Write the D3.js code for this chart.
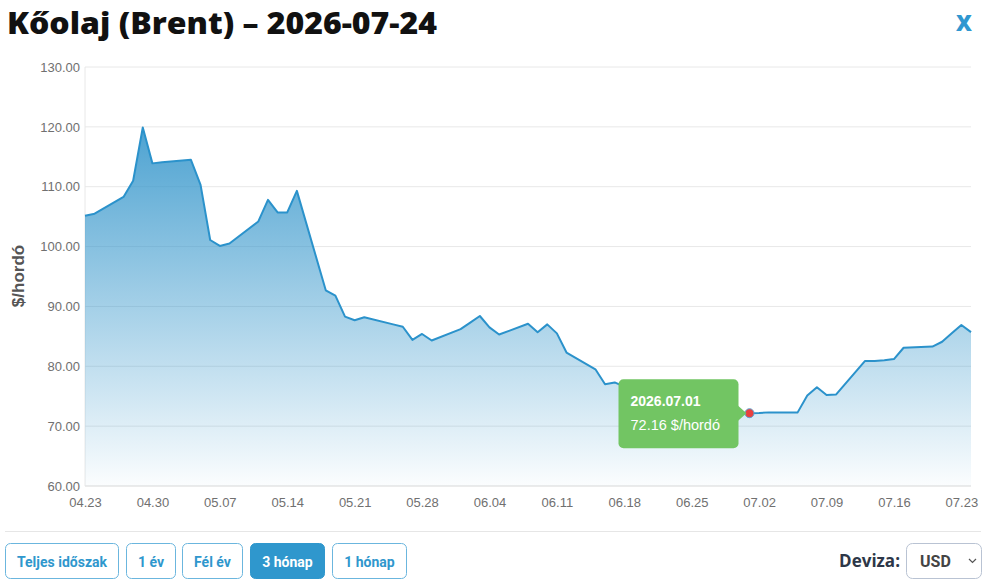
<!DOCTYPE html>
<html>
<head>
<meta charset="utf-8">
<script src="https://cdn.jsdelivr.net/npm/d3@7"></script>
<style>
  body { margin: 0; background: #fff; }
  svg { display: block; }
</style>
</head>
<body>
<div id="chart"></div>
<script>
// Brent daily prices (trading days only)
var dates = ["2026-04-23","2026-04-24","2026-04-27","2026-04-28","2026-04-29","2026-04-30","2026-05-01",
  "2026-05-04","2026-05-05","2026-05-06","2026-05-07","2026-05-08","2026-05-11","2026-05-12","2026-05-13",
  "2026-05-14","2026-05-15","2026-05-18","2026-05-19","2026-05-20","2026-05-21","2026-05-22","2026-05-25",
  "2026-05-26","2026-05-27","2026-05-28","2026-05-29","2026-06-01","2026-06-02","2026-06-03","2026-06-04",
  "2026-06-05","2026-06-08","2026-06-09","2026-06-10","2026-06-11","2026-06-12","2026-06-15","2026-06-16",
  "2026-06-17","2026-06-18","2026-06-19","2026-06-22","2026-06-23","2026-06-24","2026-06-25","2026-06-26",
  "2026-06-29","2026-06-30","2026-07-01","2026-07-02","2026-07-03","2026-07-06","2026-07-07","2026-07-08",
  "2026-07-09","2026-07-10","2026-07-13","2026-07-14","2026-07-15","2026-07-16","2026-07-17","2026-07-20",
  "2026-07-21","2026-07-22","2026-07-23","2026-07-24"];
var prices = [105.15,105.5,108.3,111.0,119.9,113.9,114.1,
  114.5,110.3,101.1,100.1,100.5,104.2,107.8,105.7,
  105.7,109.3,92.7,91.8,88.3,87.7,88.2,87.0,
  86.6,84.4,85.4,84.3,86.2,87.3,88.4,86.5,
  85.3,87.1,85.7,87.0,85.5,82.3,79.5,77.0,
  77.3,76.6,75.8,74.9,74.3,73.8,73.3,72.9,
  72.5,72.3,72.16,72.2,72.3,72.3,75.1,76.5,
  75.2,75.3,80.9,80.9,81.0,81.2,83.1,83.3,
  84.1,85.5,86.9,85.7];

var xTickDates = ["2026-04-23","2026-04-30","2026-05-07","2026-05-14","2026-05-21","2026-05-28","2026-06-04",
  "2026-06-11","2026-06-18","2026-06-25","2026-07-02","2026-07-09","2026-07-16","2026-07-23"];
var yTicks = [60,70,80,90,100,110,120,130];
var buttons = ["Teljes időszak","1 év","Fél év","3 hónap","1 hónap"];
var activeButton = "3 hónap";
var hoverDate = "2026-07-01";
var unit = "$/hordó";

var svgWidth = 994;
var svgHeight = 588;
var chartMargin = { top: 67, right: 23, bottom: 102, left: 85 };
var chartWidth = svgWidth - chartMargin.left - chartMargin.right;
var chartHeight = svgHeight - chartMargin.top - chartMargin.bottom;

var parseDate = d3.timeParse("%Y-%m-%d");
var fmtTick = d3.timeFormat("%m.%d");
var fmtTip = d3.timeFormat("%Y.%m.%d");

var data = dates.map(function(d, i) { return { key: d, date: parseDate(d), value: prices[i] }; });

var svg = d3.select("#chart").append("svg")
    .attr("width", svgWidth)
    .attr("height", svgHeight);

// title
svg.append("text")
    .attr("x", 7)
    .attr("y", 34)
    .attr("font-family", "'Open Sans', sans-serif")
    .attr("font-weight", 800)
    .attr("font-size", 30)
    .attr("fill", "#111")
    .attr("textLength", 430)
    .attr("lengthAdjust", "spacingAndGlyphs")
    .text("Kőolaj (Brent) – 2026-07-24");

svg.append("text")
    .attr("x", 964)
    .attr("y", 31)
    .attr("text-anchor", "middle")
    .attr("font-family", "'Open Sans', sans-serif")
    .attr("font-weight", 800)
    .attr("font-size", 22)
    .attr("fill", "#2f97d0")
    .text("X");

var defs = svg.append("defs");
var grad = defs.append("linearGradient")
    .attr("id", "areaFill")
    .attr("x1", 0).attr("y1", 0).attr("x2", 0).attr("y2", 1);
grad.append("stop").attr("offset", "0%").attr("stop-color", "#3596cb").attr("stop-opacity", 0.88);
grad.append("stop").attr("offset", "100%").attr("stop-color", "#3596cb").attr("stop-opacity", 0.02);

var chartGroup = svg.append("g")
    .attr("transform", `translate(${chartMargin.left}, ${chartMargin.top})`);

var xScale = d3.scaleTime()
    .domain([parseDate("2026-04-23"), parseDate("2026-07-24")])
    .range([0, chartWidth]);

var yScale = d3.scaleLinear()
    .domain([60, 130])
    .range([chartHeight, 0]);

// grid
chartGroup.append("g")
    .selectAll("line")
    .data(yTicks)
    .enter()
    .append("line")
    .attr("x1", 0)
    .attr("x2", chartWidth)
    .attr("y1", d => yScale(d))
    .attr("y2", d => yScale(d))
    .attr("stroke", d => d === 60 ? "#d8d8d8" : "#e8e8e8")
    .attr("stroke-width", 1);

chartGroup.append("line")
    .attr("x1", 0).attr("x2", 0)
    .attr("y1", 0).attr("y2", chartHeight)
    .attr("stroke", "#e8e8e8");

// axes
var leftAxis = d3.axisLeft(yScale)
    .tickValues(yTicks)
    .tickSize(0)
    .tickPadding(5)
    .tickFormat(d3.format(".2f"));

var bottomAxis = d3.axisBottom(xScale)
    .tickValues(xTickDates.map(parseDate))
    .tickSize(0)
    .tickPadding(12)
    .tickFormat(fmtTick);

var yAxisG = chartGroup.append("g").call(leftAxis);
var xAxisG = chartGroup.append("g")
    .attr("transform", `translate(0, ${chartHeight})`)
    .call(bottomAxis);

[yAxisG, xAxisG].forEach(function(g) {
    g.select(".domain").remove();
    g.selectAll("text")
        .attr("font-family", "'Liberation Sans', Arial, sans-serif")
        .attr("font-size", 13)
        .attr("fill", "#707070");
});

chartGroup.append("text")
    .attr("transform", "rotate(-90)")
    .attr("x", -(209))
    .attr("y", -61)
    .attr("text-anchor", "middle")
    .attr("font-family", "'Liberation Sans', Arial, sans-serif")
    .attr("font-weight", "bold")
    .attr("font-size", 17)
    .attr("fill", "#555")
    .text(unit);

// area + line
var area = d3.area()
    .x(d => xScale(d.date))
    .y0(chartHeight)
    .y1(d => yScale(d.value));

var line = d3.line()
    .x(d => xScale(d.date))
    .y(d => yScale(d.value));

chartGroup.append("path")
    .datum(data)
    .attr("d", area)
    .attr("fill", "url(#areaFill)");

chartGroup.append("path")
    .datum(data)
    .attr("d", line)
    .attr("fill", "none")
    .attr("stroke", "#2b92cb")
    .attr("stroke-width", 2)
    .attr("stroke-linejoin", "round");

// hovered point + tooltip
var hov = data.find(d => d.key === hoverDate);
var hx = xScale(hov.date);
var hy = yScale(hov.value);

chartGroup.append("circle")
    .attr("cx", hx)
    .attr("cy", hy)
    .attr("r", 4.5)
    .attr("fill", "#e84141")
    .attr("stroke", "#5aa6d4")
    .attr("stroke-width", 1);

var tipW = 120, tipH = 69;
var tipX = hx - 11 - tipW;
var tipY = hy - 34;
var tip = chartGroup.append("g").attr("transform", `translate(${tipX}, ${tipY})`);
tip.append("rect")
    .attr("width", tipW)
    .attr("height", tipH)
    .attr("rx", 5)
    .attr("fill", "#72c563");
tip.append("path")
    .attr("d", `M${tipW - 1},${34 - 8}L${tipW + 8},34L${tipW - 1},${34 + 8}Z`)
    .attr("fill", "#72c563");
tip.append("text")
    .attr("x", 12)
    .attr("y", 27)
    .attr("font-family", "'Liberation Sans', Arial, sans-serif")
    .attr("font-weight", "bold")
    .attr("font-size", 14)
    .attr("fill", "#fff")
    .text(fmtTip(hov.date));
tip.append("text")
    .attr("x", 12)
    .attr("y", 51)
    .attr("font-family", "'Liberation Sans', Arial, sans-serif")
    .attr("font-size", 14.5)
    .attr("fill", "#fff")
    .text(d3.format(".2f")(hov.value) + " " + unit);

// separator
svg.append("line")
    .attr("x1", 5).attr("x2", 981)
    .attr("y1", 531.5).attr("y2", 531.5)
    .attr("stroke", "#e6e6e6");

// range buttons
var btnX = [5, 126, 182, 250, 332];
var btnW = [113, 49, 60, 74, 74];
var btnG = svg.append("g")
    .selectAll("g")
    .data(buttons)
    .enter()
    .append("g")
    .attr("transform", (d, i) => `translate(${btnX[i] + 0.5}, 543.5)`);

btnG.append("rect")
    .attr("width", (d, i) => btnW[i])
    .attr("height", 35)
    .attr("rx", 5)
    .attr("fill", d => d === activeButton ? "#2f97cd" : "#fff")
    .attr("stroke", d => d === activeButton ? "#2f97cd" : "#6bb6de")
    .attr("stroke-width", 1);

btnG.append("text")
    .attr("x", (d, i) => btnW[i] / 2)
    .attr("y", 23)
    .attr("text-anchor", "middle")
    .attr("font-family", "Roboto, sans-serif")
    .attr("font-weight", "bold")
    .attr("font-size", 14)
    .attr("fill", d => d === activeButton ? "#fff" : "#2f97cd")
    .text(d => d);

// currency selector
svg.append("text")
    .attr("x", 900)
    .attr("y", 567)
    .attr("text-anchor", "end")
    .attr("font-family", "'Open Sans', sans-serif")
    .attr("font-weight", "bold")
    .attr("font-size", 17)
    .attr("fill", "#2d3748")
    .text("Deviza:");

svg.append("rect")
    .attr("x", 906.5).attr("y", 543.5)
    .attr("width", 75).attr("height", 35)
    .attr("rx", 6)
    .attr("fill", "#fff")
    .attr("stroke", "#b9c3d3");

svg.append("text")
    .attr("x", 920)
    .attr("y", 567)
    .attr("font-family", "Roboto, sans-serif")
    .attr("font-weight", "bold")
    .attr("font-size", 16)
    .attr("fill", "#444")
    .text("USD");

svg.append("path")
    .attr("d", "M969,559L972.5,562.5L976,559")
    .attr("fill", "none")
    .attr("stroke", "#555")
    .attr("stroke-width", 1.2);
</script>
</body>
</html>
